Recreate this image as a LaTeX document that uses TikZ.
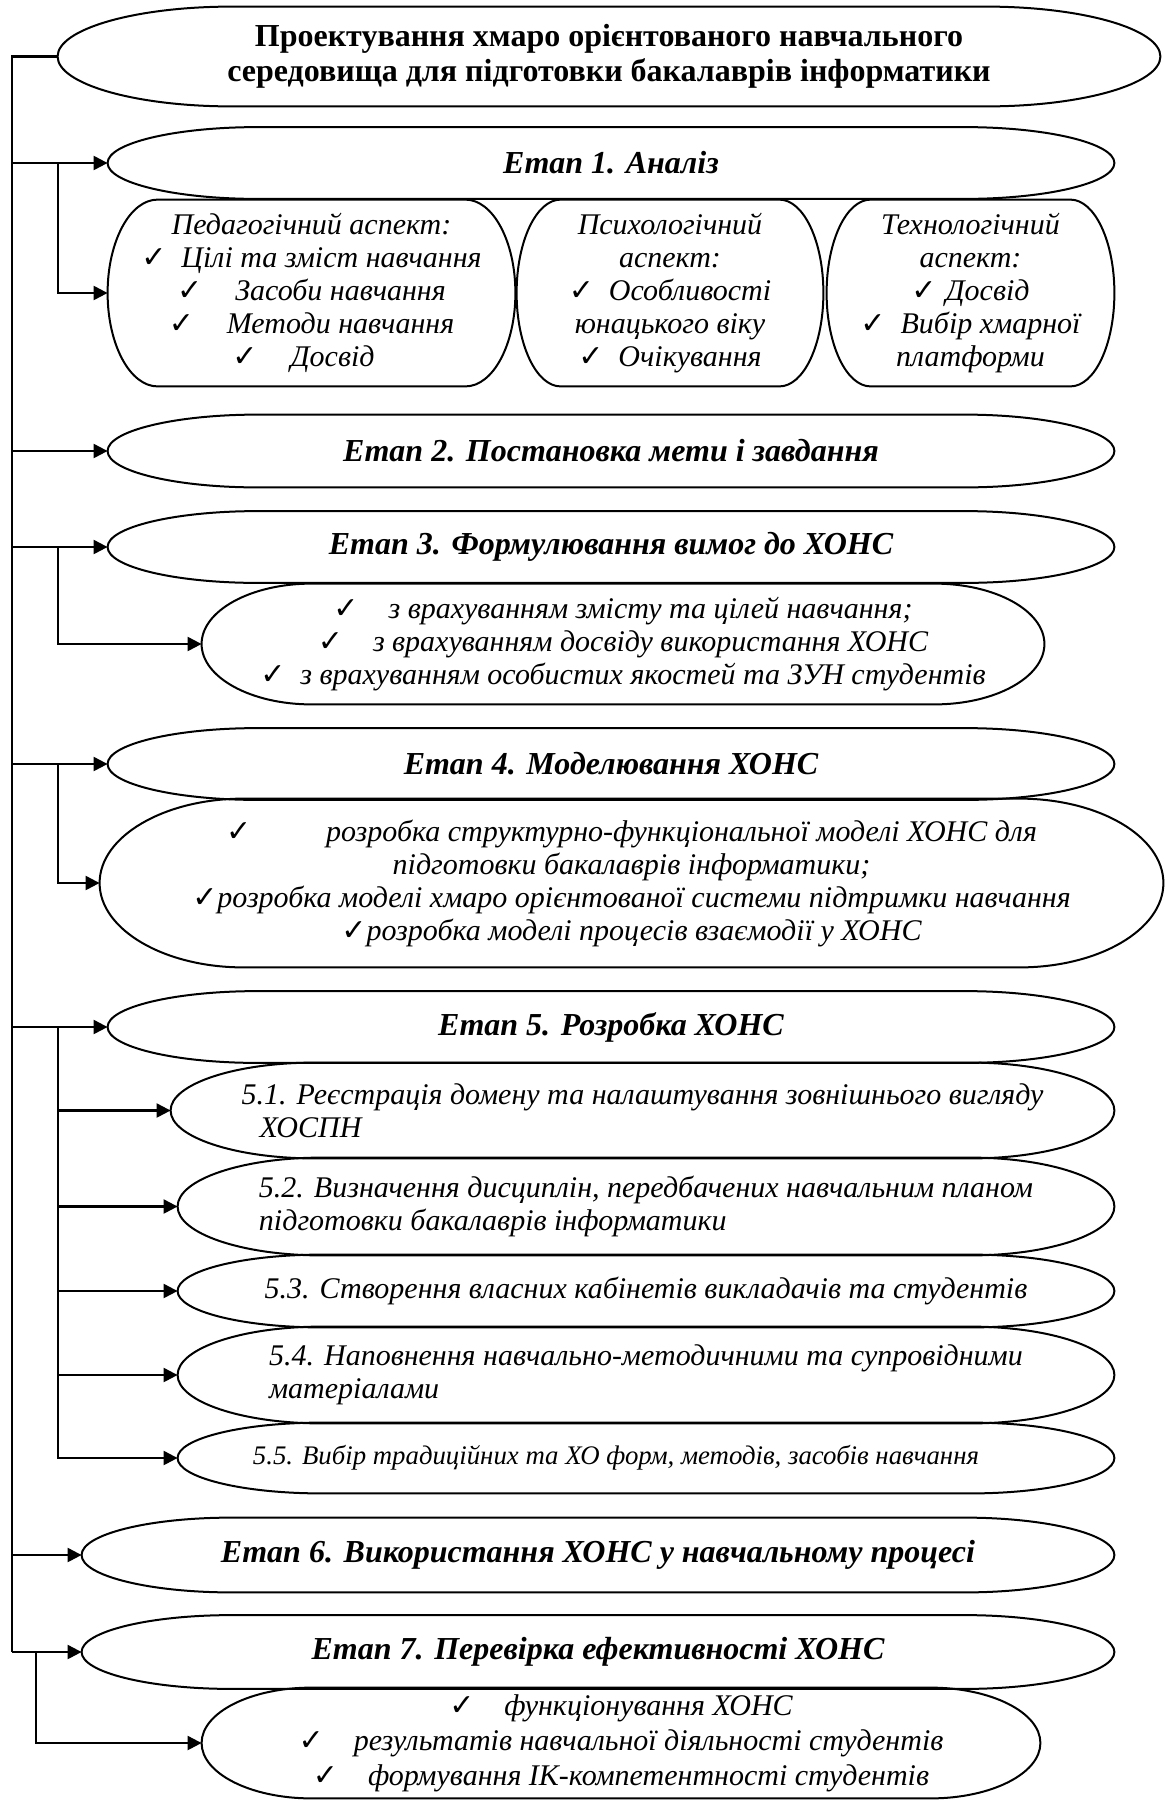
\documentclass[tikz,border=0pt]{standalone}
\usepackage{fontspec}
\setmainfont{Liberation Serif}
\newfontfamily\symfont{DejaVu Sans}
\usetikzlibrary{positioning,calc,arrows.meta}

\newcommand\chk{{\symfont ✓}}
% outline with elliptic ends round a node
\newcommand\pill[2]{%
  \draw[outline] let \p1=(#1.north west), \p2=(#1.south east), \n1={(\y1-\y2)/2} in
    (\x1+#2,\y1) -- (\x2-#2,\y1) arc[start angle=90, end angle=-90, x radius=#2, y radius=\n1]
    -- (\x1+#2,\y2) arc[start angle=270, end angle=90, x radius=#2, y radius=\n1] -- cycle;}

\begin{document}
\begin{tikzpicture}[
  x=0.5pt, y=-0.5pt,
  >={Triangle[length=7pt,width=7pt]},
  outline/.style={line width=1pt},
  trunk/.style={line width=1.4pt},
  link/.style={line width=1.1pt, ->},
  heading/.style={font=\bfseries\fontsize{16}{17.5}\selectfont, align=center, inner sep=0pt},
  stage/.style={font=\bfseries\itshape\fontsize{16}{19}\selectfont, align=center, inner sep=0pt,
    minimum width=503pt, minimum height=35.5pt},
  note/.style={font=\itshape\fontsize{15}{16.5}\selectfont, align=center, inner sep=0pt},
  devstep/.style={note, align=left, minimum width=468pt}
]
  \useasboundingbox (0,0) rectangle (1165,1800);

  \node (title) at (609,56.5) [heading, minimum width=551pt, minimum height=49.5pt] {
    Проектування хмаро орієнтованого навчального\\
    середовища для підготовки бакалаврів інформатики};

  \node (stage-1) at (611,163) [stage] {Етап 1. Аналіз};
  \node (ped-aspect) at (311.5,293) [note, minimum width=203.5pt, minimum height=93pt] {
    Педагогічний аспект:\\
    \chk\hspace{0.5em}Цілі та зміст навчання\\
    \chk\hspace{1.1em}Засоби навчання\\
    \chk\hspace{1.1em}Методи навчання\\
    \chk\hspace{1.1em}Досвід\hspace*{8pt}};
  \node (psy-aspect) at (670,293) [note, minimum width=153pt, minimum height=93pt] {
    Психологічний\\
    аспект:\\
    \chk\hspace{0.5em}Особливості\\
    юнацького віку\\
    \chk\hspace{0.5em}Очікування};
  \node (tech-aspect) at (970.5,293) [note, minimum width=143.5pt, minimum height=93pt] {
    Технологічний\\
    аспект:\\
    \chk\hspace{0.3em}Досвід\\
    \chk\hspace{0.5em}Вибір хмарної\\
    платформи};

  \node (stage-2) at (611,451) [stage, minimum height=36pt] {Етап 2. Постановка мети і завдання};
  \node (stage-3) at (611,547) [stage] {Етап 3. Формулювання вимог до ХОНС};
  \node (stage-3-items) at (623,644) [note, minimum width=421pt, minimum height=60pt] {
    \chk\hspace{1em}з врахуванням змісту та цілей навчання;\\
    \chk\hspace{1em}з врахуванням досвіду використання ХОНС\\
    \chk\hspace{0.5em}з врахуванням особистих якостей та ЗУН студентів};

  \node (stage-4) at (611,764) [stage] {Етап 4. Моделювання ХОНС};
  \node (stage-4-items) at (631.5,883) [note, minimum width=531.5pt, minimum height=84pt] {
    \chk\hspace{2.5em}розробка структурно-функціональної моделі ХОНС для\\
    підготовки бакалаврів інформатики;\\
    \chk розробка моделі хмаро орієнтованої системи підтримки навчання\\
    \chk розробка моделі процесів взаємодії у ХОНС};

  \node (stage-5) at (611,1027) [stage] {Етап 5. Розробка ХОНС};
  \node (dev-1) at (642.5,1110.5) [devstep, minimum width=471.5pt, minimum height=47.5pt] {
    5.1. Реєстрація домену та налаштування зовнішнього вигляду\\
    \hspace*{0.6em}ХОСПН};
  \node (dev-2) at (646,1206.5) [devstep, minimum height=48.5pt] {
    5.2. Визначення дисциплін, передбачених навчальним планом\\
    підготовки бакалаврів інформатики};
  \node (dev-3) at (646,1291) [devstep, minimum height=36pt] {
    5.3. Створення власних кабінетів викладачів та студентів};
  \node (dev-4) at (646,1375) [devstep, minimum height=48pt] {
    5.4. Наповнення навчально-методичними та супровідними\\
    матеріалами};
  \node (dev-5) at (646,1458) [devstep, minimum height=35pt, font=\itshape\fontsize{13.4}{16}\selectfont] {
    5.5. Вибір традиційних та ХО форм, методів, засобів навчання\hspace*{30pt}};

  \node (stage-6) at (598,1555) [stage, minimum width=516pt, minimum height=37pt] {Етап 6. Використання ХОНС у навчальному процесі};
  \node (stage-7) at (598,1652) [stage, minimum width=516pt, minimum height=36.5pt] {Етап 7. Перевірка ефективності ХОНС};
  \node (stage-7-items) at (621,1743) [note, minimum width=419pt, minimum height=55pt,
    font=\itshape\fontsize{15}{17.5}\selectfont] {
    \chk\hspace{1em}функціонування ХОНС\\
    \chk\hspace{1em}результатів навчальної діяльності студентів\\
    \chk\hspace{1em}формування ІК-компетентності студентів};

  % outlines
  \pill{title}{87pt}
  \pill{stage-1}{75pt}
  \pill{ped-aspect}{25pt}
  \pill{psy-aspect}{22pt}
  \pill{tech-aspect}{22pt}
  \pill{stage-2}{75pt}
  \pill{stage-3}{75pt}
  \pill{stage-3-items}{55pt}
  \pill{stage-4}{75pt}
  \pill{stage-4-items}{72pt}
  \pill{stage-5}{75pt}
  \pill{dev-1}{72pt}
  \pill{dev-2}{72pt}
  \pill{dev-3}{72pt}
  \pill{dev-4}{72pt}
  \pill{dev-5}{72pt}
  \pill{stage-6}{75pt}
  \pill{stage-7}{75pt}
  \pill{stage-7-items}{55pt}

  % connectors
  \coordinate (trunk-x) at (12,0);
  \coordinate (branch-x) at (58,0);
  \coordinate (branch7-x) at (36,0);
  \draw[trunk] (title.west) -| (trunk-x |- stage-7.west);
  \draw[link] (stage-1.west -| trunk-x) -- (stage-1.west);
  \draw[link] (stage-2.west -| trunk-x) -- (stage-2.west);
  \draw[link] (stage-3.west -| trunk-x) -- (stage-3.west);
  \draw[link] (stage-4.west -| trunk-x) -- (stage-4.west);
  \draw[link] (stage-5.west -| trunk-x) -- (stage-5.west);
  \draw[link] (stage-6.west -| trunk-x) -- (stage-6.west);
  \draw[link] (stage-7.west -| trunk-x) -- (stage-7.west);

  \draw[link] (stage-1.west -| branch-x) |- (ped-aspect.west);
  \draw[link] (stage-3.west -| branch-x) |- (stage-3-items.west);
  \draw[link] (stage-4.west -| branch-x) |- (stage-4-items.west);
  \draw[link] (stage-5.west -| branch-x) |- (dev-1.west);
  \draw[link] (stage-5.west -| branch-x) |- (dev-2.west);
  \draw[link] (stage-5.west -| branch-x) |- (dev-3.west);
  \draw[link] (stage-5.west -| branch-x) |- (dev-4.west);
  \draw[link] (stage-5.west -| branch-x) |- (dev-5.west);
  \draw[link] (stage-7.west -| branch7-x) |- (stage-7-items.west);
\end{tikzpicture}
\end{document}
